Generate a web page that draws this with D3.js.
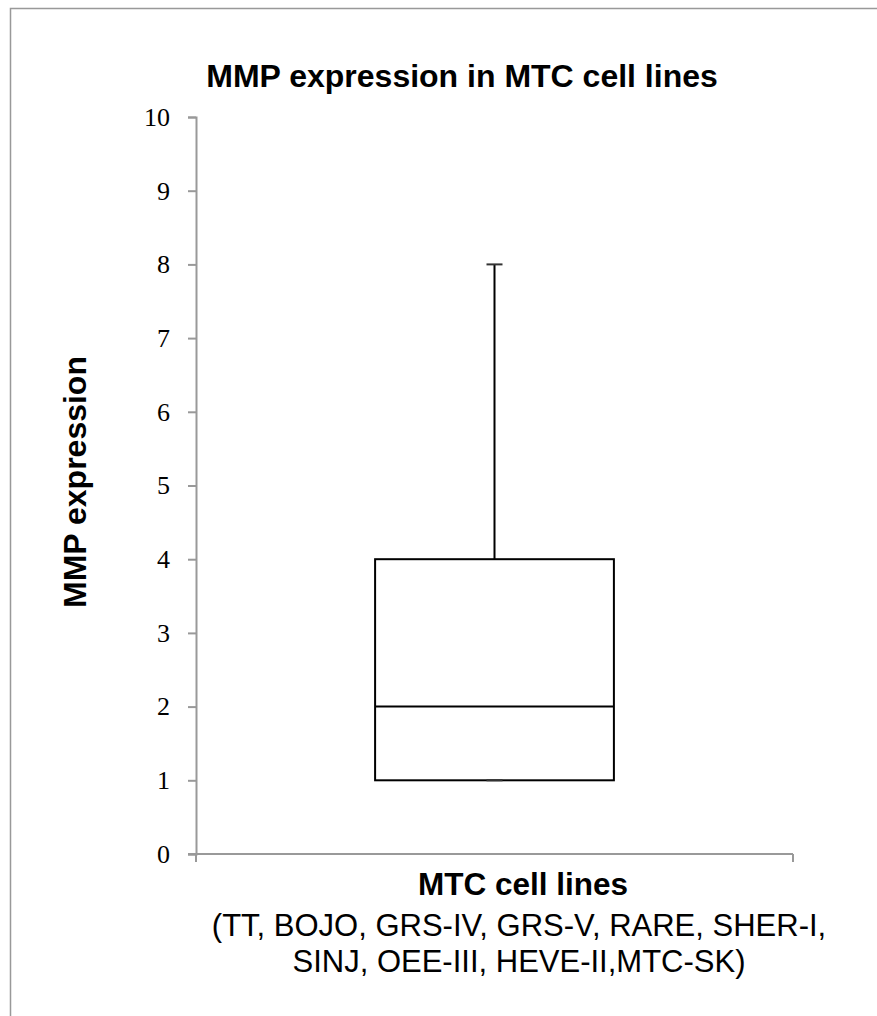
<!DOCTYPE html>
<html>
<head>
<meta charset="utf-8">
<script src="https://cdn.jsdelivr.net/npm/d3@7"></script>
<style>
  body { margin: 0; background: #fff; }
</style>
</head>
<body>
<script>
// box plot values
var categories = ["MTC cell lines"];
var whiskerMin = [1];
var q1Values = [1];
var medianValues = [2];
var q3Values = [4];
var whiskerMax = [8];
var yTicks = [0, 1, 2, 3, 4, 5, 6, 7, 8, 9, 10];
var subLines = ["(TT, BOJO, GRS-IV, GRS-V, RARE, SHER-I,", "SINJ, OEE-III, HEVE-II,MTC-SK)"];

var w = 877, h = 1016;
var plotLeft = 196, plotRight = 793, plotTop = 117, plotBottom = 854;

var svg = d3.select("body").append("svg")
    .attr("width", w)
    .attr("height", h);

// outer frame (runs off the right and bottom edge)
svg.append("rect")
    .attr("x", 10.5).attr("y", 8.5)
    .attr("width", 880).attr("height", 1020)
    .style("fill", "#fff")
    .style("stroke", "#999")
    .style("stroke-width", 1.5);

var y = d3.scaleLinear().domain([0, 10]).range([plotBottom, plotTop]);
var x = d3.scaleBand().domain(categories).range([plotLeft, plotRight]);

// y axis
var yAxis = d3.axisLeft(y).tickValues(yTicks).tickSize(8).tickPadding(18).tickFormat(d3.format("d"));
var gy = svg.append("g").attr("transform", "translate(" + plotLeft + ",0)").call(yAxis);
gy.select(".domain").attr("stroke", "#999").attr("stroke-width", 2);
gy.selectAll(".tick line").attr("stroke", "#999").attr("stroke-width", 2);
gy.selectAll(".tick text")
    .style("font-family", "'Liberation Serif', 'DejaVu Serif', serif")
    .style("font-size", "26px")
    .attr("fill", "#000");

// x axis line with end ticks
svg.append("line")
    .attr("x1", plotLeft - 8).attr("x2", plotRight)
    .attr("y1", y(0)).attr("y2", y(0))
    .attr("stroke", "#999").attr("stroke-width", 2);
x.range().forEach(function(px){
    svg.append("line")
        .attr("x1", px).attr("x2", px)
        .attr("y1", y(0)).attr("y2", y(0) + 8)
        .attr("stroke", "#999").attr("stroke-width", 2);
});

// boxes
var boxW = x.bandwidth() * 0.4;
var mid = function(d){ return x(d) + x.bandwidth() / 2; };

var boxes = svg.selectAll(".box")
    .data(categories)
    .enter().append("g")
    .attr("class", "box");

boxes.append("line") // upper whisker
    .attr("x1", mid).attr("x2", mid)
    .attr("y1", function(d, i){ return y(q3Values[i]); })
    .attr("y2", function(d, i){ return y(whiskerMax[i]); })
    .attr("stroke", "#000").attr("stroke-width", 2);

boxes.append("line") // upper cap
    .attr("x1", function(d){ return mid(d) - 8; })
    .attr("x2", function(d){ return mid(d) + 8; })
    .attr("y1", function(d, i){ return y(whiskerMax[i]); })
    .attr("y2", function(d, i){ return y(whiskerMax[i]); })
    .attr("stroke", "#333").attr("stroke-width", 2);

boxes.append("rect")
    .attr("x", function(d){ return mid(d) - boxW / 2; })
    .attr("y", function(d, i){ return y(q3Values[i]); })
    .attr("width", boxW)
    .attr("height", function(d, i){ return y(q1Values[i]) - y(q3Values[i]); })
    .attr("fill", "#fff")
    .attr("stroke", "#000").attr("stroke-width", 2);

boxes.append("line") // median
    .attr("x1", function(d){ return mid(d) - boxW / 2; })
    .attr("x2", function(d){ return mid(d) + boxW / 2; })
    .attr("y1", function(d, i){ return y(medianValues[i]); })
    .attr("y2", function(d, i){ return y(medianValues[i]); })
    .attr("stroke", "#000").attr("stroke-width", 2);

boxes.append("line") // lower cap
    .attr("x1", function(d){ return mid(d) - 8; })
    .attr("x2", function(d){ return mid(d) + 8; })
    .attr("y1", function(d, i){ return y(whiskerMin[i]); })
    .attr("y2", function(d, i){ return y(whiskerMin[i]); })
    .attr("stroke", "#333").attr("stroke-width", 2);

// titles
var sans = "'Liberation Sans', Arial, sans-serif";

svg.append("text")
    .attr("x", 462).attr("y", 87)
    .attr("text-anchor", "middle")
    .style("font-family", sans)
    .style("font-weight", "bold")
    .style("font-size", "32px")
    .text("MMP expression in MTC cell lines");

svg.append("text")
    .attr("transform", "translate(86,482) rotate(-90)")
    .attr("text-anchor", "middle")
    .style("font-family", sans)
    .style("font-weight", "bold")
    .style("font-size", "32px")
    .text("MMP expression");

svg.append("text")
    .attr("x", 523).attr("y", 895)
    .attr("text-anchor", "middle")
    .style("font-family", sans)
    .style("font-weight", "bold")
    .style("font-size", "31.5px")
    .text(categories[0]);

svg.selectAll(".sub")
    .data(subLines)
    .enter().append("text")
    .attr("class", "sub")
    .attr("x", 519)
    .attr("y", function(d, i){ return 936 + i * 36; })
    .attr("text-anchor", "middle")
    .style("font-family", sans)
    .style("font-size", "31px")
    .text(function(d){ return d; });
</script>
</body>
</html>
